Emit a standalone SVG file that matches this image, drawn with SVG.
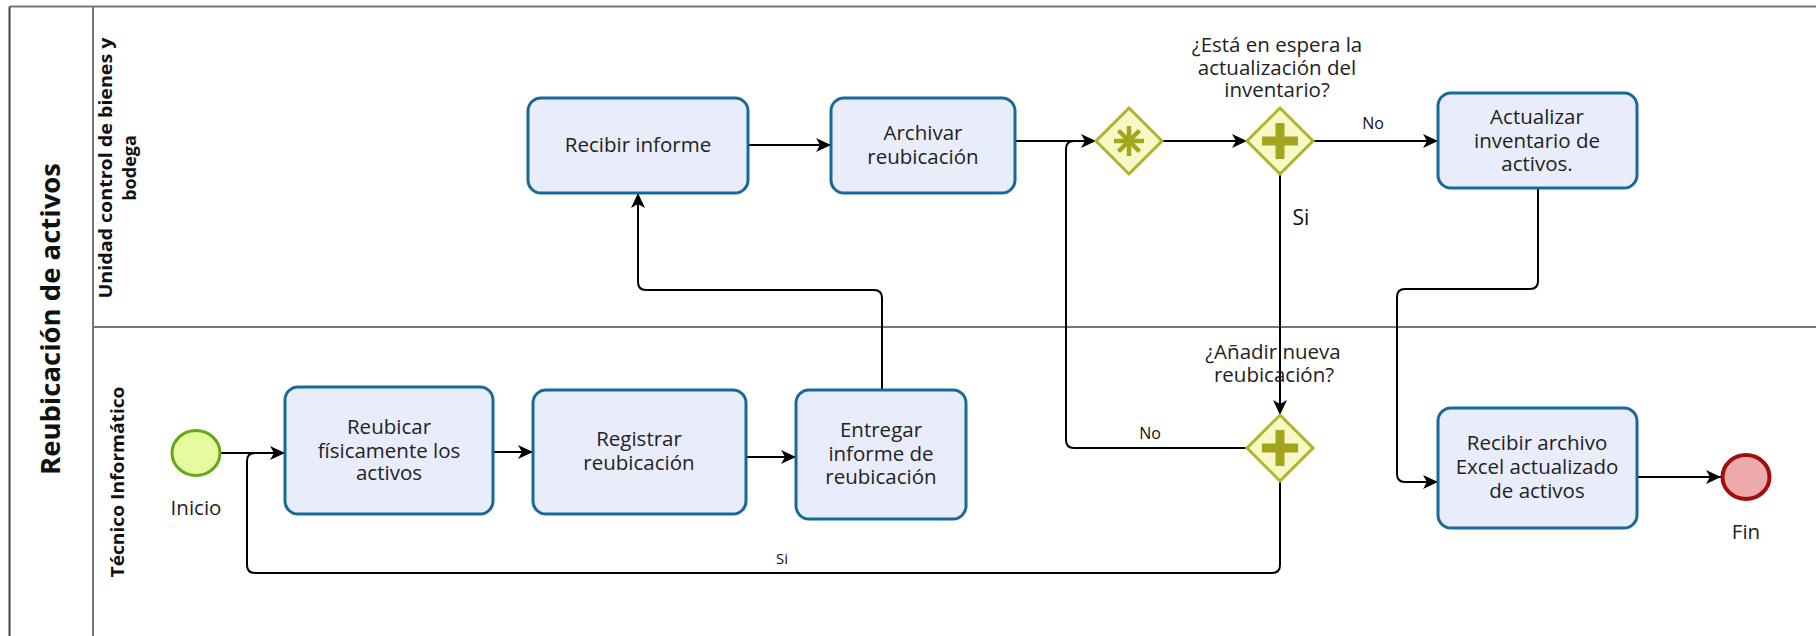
<svg xmlns="http://www.w3.org/2000/svg" width="1816" height="636" viewBox="0 0 1816 636">
<style>
  .frame{stroke:#777;stroke-width:2;fill:none}
  .task rect{fill:#e9edfb;stroke:#176a97;stroke-width:3}
  .t{font-family:"Open Sans","Noto Sans","Liberation Sans",sans-serif;font-size:20.5px;fill:#222;text-anchor:middle}
  .lbl{font-family:"Open Sans","Noto Sans","Liberation Sans",sans-serif;fill:#111;text-anchor:middle}
  .hdr{font-family:"Open Sans","Noto Sans","Liberation Sans",sans-serif;font-weight:bold;fill:#111;text-anchor:middle}
  .gw polygon{fill:#f6f8c6;stroke:#b2b32c;stroke-width:3}
  .mark{fill:#a3a51f}
  .ast{stroke:#a3a51f;stroke-width:4.5;stroke-linecap:butt}
  .flow{fill:none;stroke:#000;stroke-width:2}
  .arr{marker-end:url(#ah)}
</style>
<defs>
  <marker id="ah" markerUnits="userSpaceOnUse" markerWidth="16" markerHeight="14" refX="15" refY="7" orient="auto">
    <path d="M0,0 L15,7 L0,14 L4,7 z" fill="#000"/>
  </marker>
</defs>
<rect width="1816" height="636" fill="#fff"/>

<g id="pool">
  <line x1="9.5" y1="6.5" x2="1816" y2="6.5" class="frame"/>
  <line x1="9.5" y1="6.5" x2="9.5" y2="636" stroke="#444" stroke-width="2"/>
  <line x1="93" y1="6.5" x2="93" y2="636" class="frame"/>
  <line x1="93" y1="327" x2="1816" y2="327" class="frame"/>
  <text class="hdr" font-size="27" transform="translate(60,319) rotate(-90)" textLength="312" lengthAdjust="spacingAndGlyphs">Reubicación de activos</text>
</g>

<g id="lane-unidad">
  <text class="hdr" font-size="18" transform="translate(112,168) rotate(-90)" textLength="261" lengthAdjust="spacingAndGlyphs">Unidad control de bienes y</text>
  <text class="hdr" font-size="18" transform="translate(136,168) rotate(-90)">bodega</text>
</g>
<g id="lane-tecnico">
  <text class="hdr" font-size="18" transform="translate(124,482) rotate(-90)" textLength="191" lengthAdjust="spacingAndGlyphs">Técnico Informático</text>
</g>

<g id="connectors">
  <path class="flow arr" d="M221,453 H285"/>
  <path class="flow arr" d="M493,452 H533"/>
  <path class="flow arr" d="M746,457 H796"/>
  <path class="flow arr" d="M882,390 V298 Q882,290 874,290 H646 Q638,290 638,282 V193"/>
  <path class="flow arr" d="M748,145 H831"/>
  <path class="flow arr" d="M1015,141 H1096"/>
  <path class="flow" d="M1247,448 H1074 Q1066,448 1066,440 V149 Q1066,141 1074,141 H1082"/>
  <path class="flow arr" d="M1162,141 H1247"/>
  <path class="flow arr" d="M1313,141 H1438"/>
  <path class="flow arr" d="M1280,174 V415"/>
  <path class="flow" d="M1280,481 V565 Q1280,573 1272,573 H255 Q247,573 247,565 V461 Q247,453 255,453 H262"/>
  <path class="flow arr" d="M1538,188 V281 Q1538,289 1530,289 H1405 Q1397,289 1397,297 V474 Q1397,482 1405,482 H1438"/>
  <path class="flow arr" d="M1637,477 H1721"/>
  <text class="lbl" font-size="16" x="1373" y="129">No</text>
  <text class="lbl" font-size="21" x="1301" y="225">Si</text>
  <text class="lbl" font-size="16" x="1150" y="439">No</text>
  <text class="lbl" font-size="15" x="782" y="564">Si</text>
</g>

<g id="start">
  <ellipse cx="196" cy="453" rx="24" ry="22.5" fill="#e6fa9f" stroke="#62a818" stroke-width="3"/>
  <text class="t" x="196" y="515">Inicio</text>
</g>

<g id="task-reubicar" class="task">
  <rect x="285" y="387" width="208" height="127" rx="13"/>
  <text class="t" x="389" y="434">Reubicar</text>
  <text class="t" x="389" y="458">físicamente los</text>
  <text class="t" x="389" y="480">activos</text>
</g>

<g id="task-registrar" class="task">
  <rect x="533" y="390" width="213" height="124" rx="13"/>
  <text class="t" x="639" y="446">Registrar</text>
  <text class="t" x="639" y="470">reubicación</text>
</g>

<g id="task-entregar" class="task">
  <rect x="796" y="390" width="170" height="129" rx="13"/>
  <text class="t" x="881" y="437">Entregar</text>
  <text class="t" x="881" y="461">informe de</text>
  <text class="t" x="881" y="484">reubicación</text>
</g>

<g id="task-recibir-informe" class="task">
  <rect x="528" y="98" width="220" height="95" rx="13"/>
  <text class="t" x="638" y="152">Recibir informe</text>
</g>

<g id="task-archivar" class="task">
  <rect x="831" y="98" width="184" height="95" rx="13"/>
  <text class="t" x="923" y="140">Archivar</text>
  <text class="t" x="923" y="164">reubicación</text>
</g>

<g id="gw-complex" class="gw">
  <polygon points="1129,108 1162,141 1129,174 1096,141"/>
  <line class="ast" x1="1129" y1="126" x2="1129" y2="156"/>
  <line class="ast" x1="1114" y1="141" x2="1144" y2="141"/>
  <line class="ast" x1="1118.5" y1="130.5" x2="1139.5" y2="151.5"/>
  <line class="ast" x1="1139.5" y1="130.5" x2="1118.5" y2="151.5"/>
</g>

<g id="gw-espera" class="gw">
  <polygon points="1280,108 1313,141 1280,174 1247,141"/>
  <rect class="mark" x="1262" y="136.5" width="36" height="9"/>
  <rect class="mark" x="1275.5" y="123" width="9" height="36"/>
  <text class="t" x="1277" y="52">¿Está en espera la</text>
  <text class="t" x="1277" y="75">actualización del</text>
  <text class="t" x="1277" y="97">inventario?</text>
</g>

<g id="gw-anadir" class="gw">
  <polygon points="1280,415 1313,448 1280,481 1247,448"/>
  <rect class="mark" x="1262" y="443.5" width="36" height="9"/>
  <rect class="mark" x="1275.5" y="430" width="9" height="36"/>
  <text class="t" x="1273" y="359">¿Añadir nueva</text>
  <text class="t" x="1274" y="382">reubicación?</text>
</g>

<g id="task-actualizar" class="task">
  <rect x="1438" y="93" width="199" height="95" rx="13"/>
  <text class="t" x="1537" y="124">Actualizar</text>
  <text class="t" x="1537" y="148">inventario de</text>
  <text class="t" x="1537" y="171">activos.</text>
</g>

<g id="task-recibir-archivo" class="task">
  <rect x="1438" y="408" width="199" height="120" rx="13"/>
  <text class="t" x="1537" y="450">Recibir archivo</text>
  <text class="t" x="1537" y="474">Excel actualizado</text>
  <text class="t" x="1537" y="498">de activos</text>
</g>

<g id="end">
  <ellipse cx="1746" cy="477" rx="23.5" ry="22" fill="#eeaaaa" stroke="#a30d0d" stroke-width="4"/>
  <text class="t" x="1746" y="539">Fin</text>
</g>
</svg>
